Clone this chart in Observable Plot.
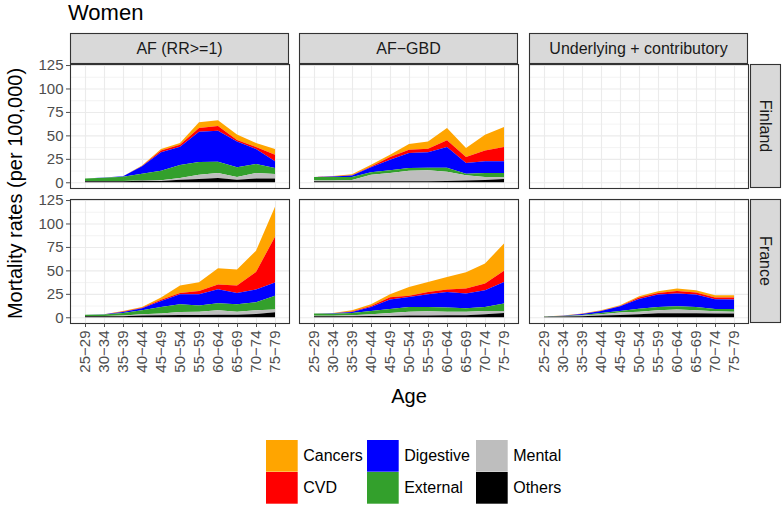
<!DOCTYPE html>
<html><head><meta charset="utf-8">
<script src="https://cdn.jsdelivr.net/npm/d3@7"></script>
<script src="https://cdn.jsdelivr.net/npm/@observablehq/plot@0.6"></script>
<style>
body{margin:0;background:#fff;}
#chart{position:relative;width:784px;height:506px;overflow:hidden;background:#fff;}
</style></head><body><div id="chart"></div>
<script>
const FONT = '"Liberation Sans", Arial, Helvetica, sans-serif';
const ages = ["25−29","30−34","35−39","40−44","45−49","50−54","55−59","60−64","65−69","70−74","75−79"];
const causes = ["Cancers","CVD","Digestive","External","Mental","Others"];
const causeColors = ["#FFA500","#FF0000","#0000FF","#33A02C","#BEBEBE","#000000"];
const stackOrder = ["Others","Mental","External","Digestive","CVD","Cancers"];
const columns = ["AF (RR>=1)","AF−GBD","Underlying + contributory"];
const rows = ["Finland","France"];
const yTicks = [0,25,50,75,100,125];
const yMinor = [12.5,37.5,62.5,87.5,112.5];

// rows in the order of `causes`, values per age group
const finlandAF = [
  [0,0,0.1,0.7,1.5,2,6,6,6,4.4,6.1],
  [0,0,0,0.3,2,2,4,5,1.4,2.1,7.1],
  [0,0.2,0.5,8,19.6,19.6,32.4,33,27.6,16,7.1],
  [2.7,3.5,4.5,7,10.3,13.8,13.6,12,10.3,9.5,6.3],
  [0.3,0.3,0.3,0.5,0.7,1.8,4.5,5.4,2.9,6.1,5],
  [1,1,1,1.5,1.4,2.8,3.5,4.6,2.8,3.9,3.9]
];
const finlandGBD = [
  [0,0.3,1.1,2,2.4,6,7.8,13.1,9.5,16.7,21.4],
  [0,0.2,0.3,0.8,3,3.6,3.8,7.1,6.4,11.7,15.3],
  [0,0.5,1.4,5.4,11.2,16,16.4,22,11.4,12.3,12.3],
  [3.9,3.7,3.2,2.6,2.8,2.8,2.8,4.3,1.8,4.3,4.7],
  [0.8,1,1.5,7,9,11.4,11.8,9.9,5.6,3.2,1.8],
  [1,1,1,1,1,1,1,1.4,1.8,2.5,3.5]
];
const franceAF = [
  [0,0.1,0.7,0.8,2.2,7.8,9.4,17.3,17,22.6,32],
  [0,0,0.5,0.6,1.4,1.4,3.4,5,8,18.9,48.8],
  [0,0.1,1,2.1,6.4,10.7,12.1,15,12.1,13.5,14],
  [1.5,1.6,2.8,4.4,7.1,8.2,6.5,7.5,7.9,8.5,14.8],
  [0.3,0.4,0.6,1.3,1.8,3.2,3.5,4.7,3.2,3.9,2.9],
  [1,1,1.2,1.8,2.1,2.5,2.5,2.8,2.8,3.6,5.3]
];
const franceGBD = [
  [0,0.2,1.3,1.9,3.2,9.4,10.7,13.5,17.4,21.3,29.2],
  [0,0.1,0.5,1,2.5,1.3,2.4,2.5,5.3,7.2,11.8],
  [0,0.5,1.1,4.2,10,10.7,13.6,16.7,15.7,17.8,23.1],
  [2.4,2.2,2.4,3.6,4.3,5,4.6,4.3,3.6,4.2,7.8],
  [0.5,0.6,1,1.8,3.2,4.2,4.6,3.9,3.9,3.6,2.2],
  [1,1,1.2,1.4,1.4,1.8,1.8,2.1,2.1,3.2,4.6]
];
const franceUC = [
  [0,0.1,0.2,0.5,0.7,1.4,1.8,2.6,2.5,2.5,2.5],
  [0,0,0.1,0.2,0.4,1.4,1.8,2.7,2.1,1.8,2.1],
  [0,0.3,1.2,2.2,4.9,10.4,13.2,13.6,13.2,10.3,10],
  [0.1,0.3,0.6,1.4,1.8,3.2,3.5,3.5,3.5,2.5,2.9],
  [0.1,0.3,0.6,1.4,2.5,2.8,3.2,3.9,3.2,2.5,2.1],
  [0.5,0.8,1.2,1.8,2.5,3.2,4.3,4.3,4.3,3.9,3.9]
];
const panels = [[finlandAF, finlandGBD, null],[franceAF, franceGBD, franceUC]];

// layout
const PX = [70, 299, 529], PW = 219;
const PY = [64, 199], PH = 124;
const stripTop = 33, stripRX = 750, stripRW = 31;

const chart = document.getElementById("chart");

// overlay with titles, strips, legend
const ov = d3.select(chart).append("svg")
  .attr("width",784).attr("height",506)
  .style("position","absolute").style("left","0px").style("top","0px")
  .style("font-family", FONT);
ov.append("text").attr("x",68).attr("y",20).attr("font-size",22).attr("fill","#000").text("Women");
columns.forEach((c,i)=>{
  ov.append("rect").attr("x",PX[i]+0.5).attr("y",stripTop+0.5).attr("width",PW-1).attr("height",PY[0]-stripTop-1)
    .attr("fill","#d9d9d9").attr("stroke","#333").attr("stroke-width",1.1);
  ov.append("text").attr("x",PX[i]+PW/2).attr("y",(stripTop+PY[0])/2).attr("dy","0.35em")
    .attr("text-anchor","middle").attr("font-size",16).attr("fill","#1a1a1a").text(c);
});
rows.forEach((r,i)=>{
  ov.append("rect").attr("x",stripRX+0.5).attr("y",PY[i]+0.5).attr("width",stripRW-1).attr("height",PH-1)
    .attr("fill","#d9d9d9").attr("stroke","#333").attr("stroke-width",1.1);
  ov.append("text").attr("transform",`translate(${stripRX+stripRW/2},${PY[i]+PH/2}) rotate(90)`).attr("dy","0.35em")
    .attr("text-anchor","middle").attr("font-size",16).attr("fill","#1a1a1a").text(r);
});
ov.append("text").attr("transform",`translate(15,${(PY[0]+PY[1]+PH)/2}) rotate(-90)`).attr("dy","0.35em")
  .attr("text-anchor","middle").attr("font-size",20).attr("fill","#000").text("Mortality rates (per 100,000)");
ov.append("text").attr("x",(PX[0]+PX[2]+PW)/2).attr("y",403).attr("text-anchor","middle")
  .attr("font-size",20).attr("fill","#000").text("Age");
// legend
const legX = [266, 367, 476], legY = [440, 472], key = 31.7;
causes.forEach((c,i)=>{
  const col = Math.floor(i/2), row = i%2;
  ov.append("rect").attr("x",legX[col]).attr("y",legY[row]).attr("width",key).attr("height",key)
    .attr("fill",causeColors[i]);
  ov.append("text").attr("x",legX[col]+key+5.5).attr("y",legY[row]+key/2).attr("dy","0.35em")
    .attr("font-size",16).attr("fill","#000").text(c);
});

// panels
const mL = 40, mR = 2, mT = 2, mB = 70;
panels.forEach((rowPanels, r)=>{
  rowPanels.forEach((values, c)=>{
    const data = [];
    if (values) causes.forEach((cause,i)=>ages.forEach((a,j)=>data.push({age:a, cause, value: values[i][j]})));
    const svg = Plot.plot({
      width: PW + mL + mR, height: PH + mT + mB,
      marginLeft: mL, marginRight: mR, marginTop: mT, marginBottom: mB,
      style: {background:"none", color:"#4d4d4d", fontSize:"15px", fontFamily: FONT, overflow:"visible"},
      x: {type:"point", domain: ages, padding: 0.6, axis: null},
      y: {domain: [-6.1, 126.1], axis: null},
      color: {domain: causes, range: causeColors},
      marks: [
        Plot.gridY(yMinor, {stroke:"#ebebeb", strokeOpacity:1, strokeWidth:0.6}),
        Plot.gridY(yTicks, {stroke:"#ebebeb", strokeOpacity:1, strokeWidth:1.1}),
        Plot.gridX(ages, {stroke:"#ebebeb", strokeOpacity:1, strokeWidth:1.1}),
        values ? Plot.areaY(data, {x:"age", y:"value", fill:"cause", order: stackOrder}) : null,
        Plot.frame({stroke:"#333", strokeWidth:1.1}),
        c === 0 ? Plot.axisY(yTicks, {tickSize:4, tickPadding:3, label:null}) : null,
        r === 1 ? Plot.axisX(ages, {tickRotate:-90, tickSize:4, tickPadding:3, label:null}) : null
      ]
    });
    svg.style.position = "absolute";
    svg.style.left = (PX[c]-mL)+"px";
    svg.style.top = (PY[r]-mT)+"px";
    svg.style.maxWidth = "none";
    chart.appendChild(svg);
  });
});
</script></body></html>
